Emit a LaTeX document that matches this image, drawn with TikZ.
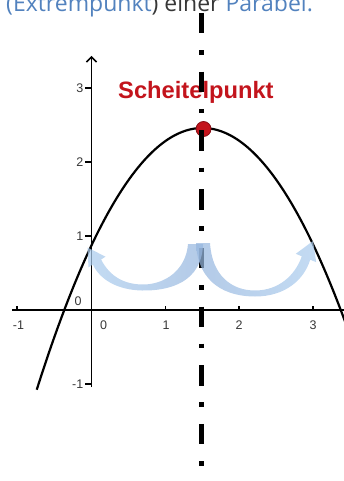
\documentclass[tikz,border=0pt]{standalone}
\usepackage{fontspec}
\setmainfont{Liberation Sans}
\newfontfamily\opensans{Open Sans}
\usetikzlibrary{arrows.meta}
\definecolor{LinkBlue}{RGB}{82,130,190}
\definecolor{TextGray}{RGB}{55,55,55}
\definecolor{VertexRed}{RGB}{195,20,28}
\definecolor{ArrowBlue}{RGB}{150,182,222}
\definecolor{ArrowLight}{RGB}{172,205,238}

\begin{document}
\begin{tikzpicture}[x=1pt,y=-1pt,
    axis/.style={line width=1.5pt,black},
    ticklabel/.style={font=\fontsize{12.5}{14}\selectfont,text=TextGray,inner sep=0pt},
    symarrow/.style={fill opacity=.72}]
  \useasboundingbox (0,0) rectangle (344,481);
  \clip (0,0) rectangle (344,481);
  % heading, cut at the top edge
  \node[anchor=base west,inner sep=0pt,font=\opensans\fontsize{23}{26}\selectfont] (head) at (6,11.5)
    {\textcolor{LinkBlue}{(Extrempunkt}\textcolor{TextGray}{) einer} \textcolor{LinkBlue}{Parabel.}};
  % axes
  \draw[axis] (12,310) -- (344,310);
  \draw[axis,-{Straight Barb[length=5pt,width=10pt]}] (91.5,387) -- (91.5,56);
  \foreach \y/\t/\n in {88/3/a,162/2/b,236/1/c,384/-1/d}
    {\draw[axis,line width=1.2pt] (85,\y) -- (91.5,\y);
     \node[ticklabel,anchor=east] (ylab\n) at (83.5,\y) {\t};}
  \foreach \x in {17,165.5,239,313}
    \draw[axis,line width=1.2pt] (\x,310) -- (\x,305.5);
  \foreach \x/\t/\n in {18.5/-1/a,103.5/0/b,166/1/c,239/2/d,313/3/e}
    \node[ticklabel] (xlab\n) at (\x,325.5) {\t};
  \node[ticklabel] (origin) at (78,301) {0};
  % parabola
  \begin{scope}[shift={(91.5,310)},x=74pt,y=74pt]
    \draw[line width=2.2pt,domain=-0.74:3.45,samples=80,smooth] plot (\x,{2.46-0.705*(\x-1.5)^2});
  \end{scope}
  \node[circle,fill=VertexRed,draw=VertexRed!70!black,line width=.8pt,minimum size=15pt,inner sep=0pt] (vertex) at (203.5,129) {};
  \node[anchor=base west,inner sep=0pt,text=VertexRed,font=\bfseries\fontsize{23.7}{26}\selectfont] (label) at (118,99) {Scheitelpunkt};
  % axis of symmetry
  \coordinate (symtop) at (201.5,13);
  \coordinate (symbot) at (201.5,466);
  \draw[line width=5pt,dash pattern=on 20.5pt off 16.6pt on 4.6pt off 17pt] (symtop) -- (symbot);
  % mirror arrows
  \coordinate (tipL) at (87.5,247.5);
  \coordinate (tipR) at (313,241);
  \shade[symarrow,left color=ArrowLight,right color=ArrowBlue]
    (203,244) .. controls (202,282) and (170,291) .. (142,290.5)
    .. controls (118,290) and (100,280) .. (92.9,264.5)
    -- (88.5,267.3) -- (tipL) -- (105.5,256.7) -- (101.1,259.5)
    .. controls (110,277) and (125,284.5) .. (143,284.5)
    .. controls (165,284.5) and (186,270) .. (188,244) -- cycle;
  \shade[symarrow,left color=ArrowBlue,right color=ArrowLight]
    (196,243) .. controls (198,285) and (228,296.5) .. (255,296.5)
    .. controls (285,296.5) and (304,280) .. (310.2,259.7)
    -- (316.2,262.2) -- (tipR) -- (295.8,253.8) -- (301.8,256.3)
    .. controls (295,276) and (278,290.5) .. (255,290.5)
    .. controls (232,290.5) and (212,276) .. (210,243) -- cycle;
\end{tikzpicture}
\end{document}
